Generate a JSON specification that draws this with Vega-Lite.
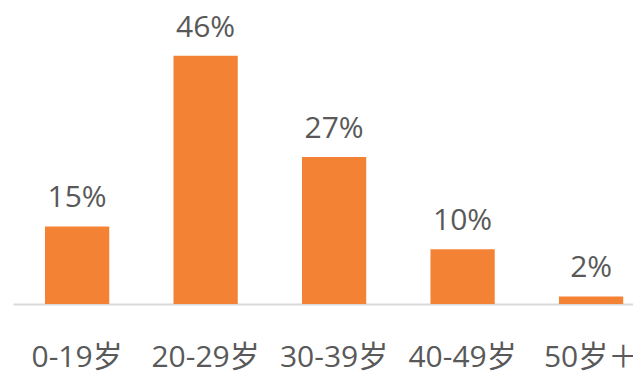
{
  "$schema": "https://vega.github.io/schema/vega-lite/v6.json",
  "autosize": "none",
  "padding": {"left": 13, "top": 33, "right": 0, "bottom": 67},
  "width": 620,
  "height": 271,
  "background": "white",
  "data": {
    "values": [
      {"age": "0-19岁", "value": 14.3, "label": "15%"},
      {"age": "20-29岁", "value": 45.8, "label": "46%"},
      {"age": "30-39岁", "value": 27.1, "label": "27%"},
      {"age": "40-49岁", "value": 10.1, "label": "10%"},
      {"age": "50岁＋", "value": 1.4, "label": "2%"}
    ]
  },
  "config": {
    "view": {"stroke": null},
    "font": "Open Sans, Noto Sans CJK SC"
  },
  "encoding": {
    "x": {
      "field": "age",
      "type": "nominal",
      "sort": null,
      "scale": {"paddingInner": 0.5, "paddingOuter": 0.1625, "align": 0.766},
      "axis": {
        "title": null,
        "labelAngle": 0,
        "labelFont": "Open Sans, Noto Sans CJK SC",
        "labelFontSize": 30,
        "labelColor": "#595959",
        "labelBaseline": "alphabetic",
        "labelPadding": 62,
        "ticks": false,
        "tickSize": 0,
        "domainColor": "#d9d9d9",
        "domainWidth": 2,
        "labelOverlap": false,
        "labelBound": false
      }
    },
    "y": {
      "field": "value",
      "type": "quantitative",
      "scale": {"domain": [0, 50]},
      "axis": null
    }
  },
  "layer": [
    {"mark": {"type": "bar", "color": "#F38234"}},
    {
      "mark": {
        "type": "text",
        "baseline": "alphabetic",
        "dy": -19,
        "fontSize": 30,
        "color": "#595959",
        "font": "Open Sans, Noto Sans CJK SC"
      },
      "encoding": {"text": {"field": "label"}}
    }
  ]
}
